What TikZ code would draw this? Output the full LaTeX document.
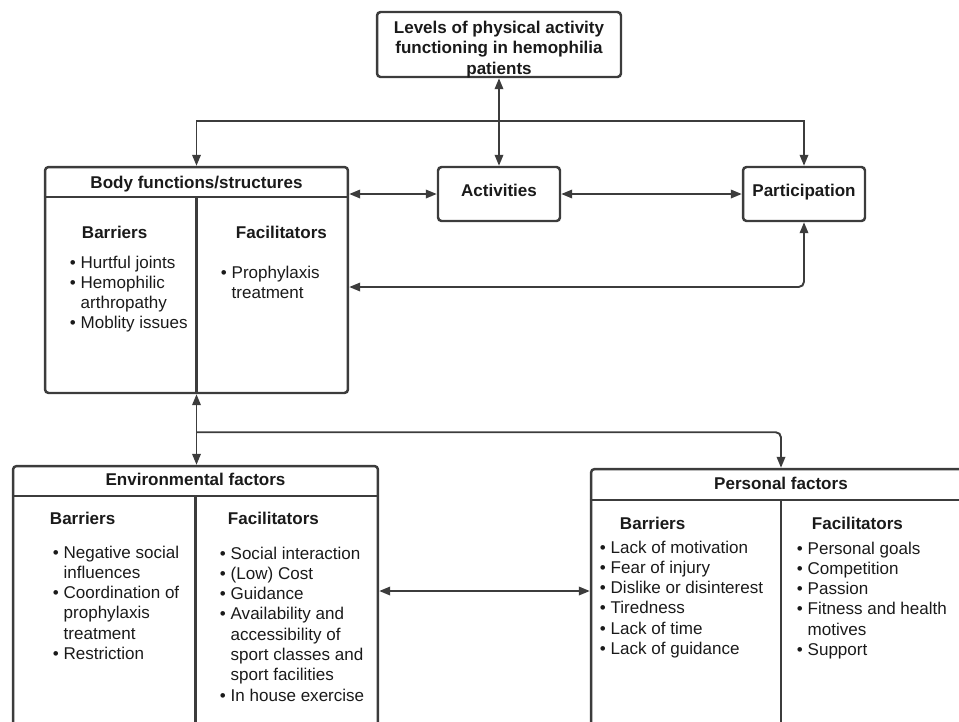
\documentclass[tikz,border=0pt]{standalone}
\usepackage{fontspec}
\setmainfont{Liberation Sans}
\usetikzlibrary{arrows.meta,calc}
\definecolor{ln}{HTML}{3C3C3C}
\definecolor{tx}{HTML}{1A1A1A}

\begin{document}
\begin{tikzpicture}[>={Triangle[length=0.22cm,width=0.17cm]}, x=0.02cm, y=-0.02cm, line width=1.1pt, draw=ln]
\tikzstyle{every node}=[text=tx,inner sep=0pt]
\tikzstyle{box}=[draw=ln,rounded corners=2pt,line width=1.4pt]
\tikzstyle{hd}=[font=\fontsize{9.7}{11.55}\selectfont\bfseries]
\tikzstyle{lst}=[font=\fontsize{9.7}{11.55}\selectfont,align=left,anchor=north west]
\useasboundingbox (0,0) rectangle (959,721);
\clip (0,0) rectangle (959,721);
% top and the three levels
\node[box,hd,align=center,minimum width=4.88cm,minimum height=1.3cm,text height=1.18cm,text depth=0pt](lv) at (499,44.5) {Levels of physical activity\\functioning in hemophilia\\patients};
\node[box,hd,minimum width=2.44cm,minimum height=1.08cm,text height=0.24cm,text depth=0.16cm](ac) at (499,194) {Activities};
\node[box,hd,minimum width=2.44cm,minimum height=1.08cm,text height=0.24cm,text depth=0.16cm](pa) at (804,194) {Participation};
\node[box,minimum width=6.06cm,minimum height=4.52cm](bf) at (196.5,280) {};
\draw[line width=1.4pt] ($(bf.north west)+(0,31)$) -- ($(bf.north east)+(0,31)$);
\draw[line width=1.4pt] ($(bf.north)+(0,31)$) -- (bf.south);
\node[hd](bft) at ($(bf.north)+(0,18.5)$) {Body functions/structures};
\node[hd,anchor=base west](bb) at (81,238) {Barriers};
\node[hd,anchor=base west](bfa) at (235,238) {Facilitators};
\node[lst](bbl) at (69,254.7) {• Hurtful joints\\• Hemophilic\\\phantom{• }arthropathy\\• Moblity issues};
\node[lst](bfl) at (220,264.7) {• Prophylaxis\\\phantom{• }treatment};
% environmental and personal factors
\node[box,minimum width=7.3cm,minimum height=5.88cm](en) at (195.5,613) {};
\draw[line width=1.4pt] ($(en.north west)+(0,31)$) -- ($(en.north east)+(0,31)$);
\draw[line width=1.4pt] ($(en.north)+(0,31)$) -- (en.south);
\node[hd](ent) at ($(en.north)+(0,15)$) {Environmental factors};
\node[hd,anchor=base west](eb) at (49,524) {Barriers};
\node[hd,anchor=base west](efa) at (227,524) {Facilitators};
\node[lst](ebl) at (52,544.7) {• Negative social\\\phantom{• }influences\\• Coordination of\\\phantom{• }prophylaxis\\\phantom{• }treatment\\• Restriction};
\node[lst](efl) at (219,545.7) {• Social interaction\\• (Low) Cost\\• Guidance\\• Availability and\\\phantom{• }accessibility of\\\phantom{• }sport classes and\\\phantom{• }sport facilities\\• In house exercise};
\node[box,minimum width=7.6cm,minimum height=5.82cm](pf) at (781,614.5) {};
\draw[line width=1.4pt] ($(pf.north west)+(0,32)$) -- ($(pf.north east)+(0,32)$);
\draw[line width=1.4pt] ($(pf.north)+(0,32)$) -- (pf.south);
\node[hd](pft) at ($(pf.north)+(0,16)$) {Personal factors};
\node[hd,anchor=base west](pb) at (619,529) {Barriers};
\node[hd,anchor=base west](pfa) at (811,529) {Facilitators};
\node[lst](pbl) at (599,539.7) {• Lack of motivation\\• Fear of injury\\• Dislike or disinterest\\• Tiredness\\• Lack of time\\• Lack of guidance};
\node[lst](pfl) at (796,540.7) {• Personal goals\\• Competition\\• Passion\\• Fitness and health\\\phantom{• }motives\\• Support};
% connectors
\coordinate (j1) at ($(lv.south)+(0,43)$);
\coordinate (k1) at ($(bf.east)+(0,7)$);
\coordinate (k2) at ($(bf.south)+(0,38)$);
\coordinate (k3) at ($(en.east)+(0,-22)$);
\draw[<->] (lv.south) -- (ac.north);
\draw[->] (j1) -| (bf.north);
\draw[->] (j1) -| (pa.north);
\draw[<->] (bf.east |- ac.west) -- (ac.west);
\draw[<->] (ac.east) -- (pa.west);
\draw[<->,rounded corners=3pt] (k1) -| (pa.south);
\draw[<->] (bf.south) -- (bf.south |- en.north);
\draw[->,rounded corners=3pt] (k2) -| (pf.north);
\draw[<->] (k3) -- (k3 -| pf.west);
\end{tikzpicture}
\end{document}
